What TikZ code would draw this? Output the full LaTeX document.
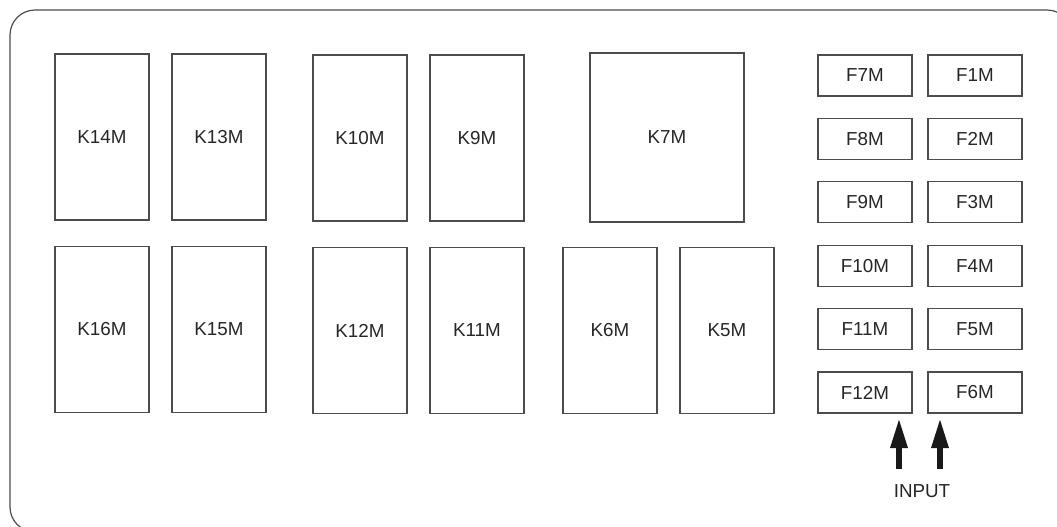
\documentclass[tikz,border=0pt]{standalone}
\usepackage{fontspec}
\setmainfont{Liberation Sans}
\usepackage{tikz}
\usetikzlibrary{positioning,arrows.meta}

\begin{document}
\begin{tikzpicture}[
  x=0.5pt, y=-0.5pt,
  relay/.style={draw=black!70, line width=0.6pt, minimum width=47pt, minimum height=83pt,
                inner sep=0pt, outer sep=0pt, font=\fontsize{9.4}{11}\selectfont, text=black!85},
  bigrelay/.style={relay, minimum width=77pt, minimum height=84.5pt},
  fuse/.style={relay, minimum height=20.5pt},
  inarr/.style={-{Triangle[length=15pt, width=8pt]}, line width=3pt, black!90, shorten >=2.5pt},
  node distance=11.2pt and 8pt
]
\useasboundingbox (0,0) rectangle (1057,526);
\clip (0,0) rectangle (1057,526);

%% Outer frame of the box
\draw[black!70, line width=0.6pt, rounded corners=12.5pt] (10,10) rectangle (1072,532);

%% Relays, top row
\node[relay] (k14) at (102,137) {K14M};
\node[relay] (k13) at (219,137) {K13M};
\node[relay] (k10) at (360,138) {K10M};
\node[relay] (k9)  at (477,138) {K9M};
\node[bigrelay] (k7) at (667,137.5) {K7M};

%% Relays, bottom row
\node[relay] (k16) at (102,329.5) {K16M};
\node[relay] (k15) at (219,329.5) {K15M};
\node[relay] (k12) at (360,330.5) {K12M};
\node[relay] (k11) at (477,330.5) {K11M};
\node[relay] (k6)  at (610,330.5) {K6M};
\node[relay] (k5)  at (727,330.5) {K5M};

%% Fuses, left column
\node[fuse] (f7) at (865,75.5) {F7M};
\node[fuse, below=of f7]  (f8)  {F8M};
\node[fuse, below=of f8]  (f9)  {F9M};
\node[fuse, below=of f9]  (f10) {F10M};
\node[fuse, below=of f10] (f11) {F11M};
\node[fuse, below=of f11] (f12) {F12M};

%% Fuses, right column
\node[fuse] (f1) at (975,75.5) {F1M};
\node[fuse, below=of f1] (f2) {F2M};
\node[fuse, below=of f2] (f3) {F3M};
\node[fuse, below=of f3] (f4) {F4M};
\node[fuse, below=of f4] (f5) {F5M};
\node[fuse, below=of f5] (f6) {F6M};

%% Input arrows
\coordinate (in1) at (899,469);
\coordinate (in2) at (940,469);
\draw[inarr] (in1) -- (in1 |- f12.south);
\draw[inarr] (in2) -- (in2 |- f6.south);
\node[font=\fontsize{9.4}{11}\selectfont, text=black!85] (input) at (922,491) {INPUT};
\end{tikzpicture}
\end{document}
